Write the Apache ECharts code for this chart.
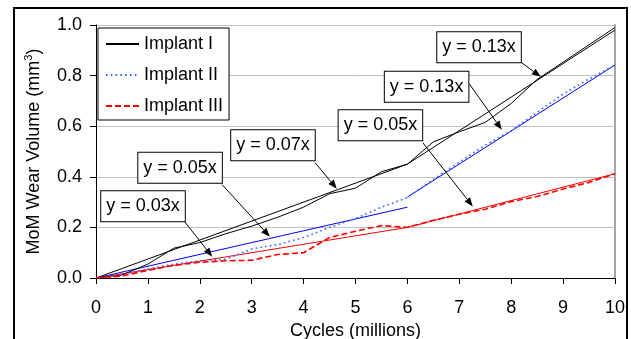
<!DOCTYPE html>
<html><head><meta charset="utf-8">
<script src="https://cdn.jsdelivr.net/npm/echarts@6/dist/echarts.min.js"></script>
<style>html,body{margin:0;padding:0;background:#fff}#c{width:631px;height:339px}</style>
</head><body><div id="c"></div>
<script>
// Cycles (millions)
const cycles = [0,0.5,1,1.5,2,2.5,3,3.5,4,4.5,5,5.5,6,6.5,7,7.5,8,8.5,9,9.5,10];
// Wear volume (mm3)
const implantI   = [0,0.012,0.055,0.118,0.14,0.175,0.205,0.24,0.28,0.333,0.355,0.42,0.45,0.538,0.578,0.615,0.69,0.785,0.853,0.922,0.99];
const implantII  = [0,0.012,0.035,0.055,0.068,0.074,0.115,0.132,0.16,0.2,0.235,0.28,0.318,0.39,0.458,0.525,0.582,0.655,0.727,0.787,0.842];
const implantIII = [0,0.008,0.03,0.05,0.062,0.068,0.07,0.093,0.1,0.16,0.185,0.207,0.2,0.228,0.252,0.272,0.302,0.322,0.352,0.378,0.412];
// Linear fits (start / end points)
const fitIa   = [[0,0],[6,0.45]];
const fitIb   = [[6,0.45],[10,0.98]];
const fitIIa  = [[0,0],[6,0.28]];
const fitIIb  = [[6,0.32],[10,0.842]];
const fitIIIa = [[0,0],[6,0.2]];
const fitIIIb = [[6,0.2],[10,0.412]];
// Annotation labels: text, box centre, arrow start, arrow tip (data coords)
const noteText = ['y = 0.13x','y = 0.13x','y = 0.05x','y = 0.07x','y = 0.05x','y = 0.03x'];
const noteBox  = [[7.38,0.912],[6.37,0.756],[5.48,0.604],[3.41,0.525],[1.62,0.436],[0.906,0.284]];
const noteFrom = [[8.17,0.856],[7.19,0.768],[6.30,0.534],[4.22,0.456],[2.43,0.369],[1.71,0.222]];
const noteTo   = [[8.57,0.795],[7.82,0.586],[7.26,0.283],[4.64,0.353],[3.35,0.163],[2.24,0.084]];

const FONT = "'Liberation Sans', Arial, sans-serif";
const pair = (xs, ys) => xs.map((x, i) => [x, ys[i]]);

const chart = echarts.init(document.getElementById('c'), null, {renderer: 'canvas'});
const fitSeries = (data, color) => ({
  type: 'line', data, symbol: 'none', silent: true, z: 3,
  lineStyle: {color, width: 1, type: 'solid'}
});
const option = {
  animation: false,
  backgroundColor: '#fff',
  textStyle: {fontFamily: FONT},
  grid: {left: 96, right: 16, top: 25, bottom: 61, show: false,
         containLabel: false, outerBoundsMode: 'none'},
  legend: {
    data: ['Implant I', 'Implant II', 'Implant III'],
    orient: 'vertical', left: 98, top: 28,
    backgroundColor: '#fff', borderColor: '#000', borderWidth: 1, borderRadius: 0,
    padding: [7, 6, 5, 7], itemWidth: 33, itemHeight: 14, itemGap: 13,
    itemStyle: {opacity: 0, color: 'rgba(0,0,0,0)', borderWidth: 0},
    textStyle: {fontFamily: FONT, fontSize: 18, lineHeight: 18, color: '#000'},
    z: 10
  },
  xAxis: {
    type: 'value', min: 0, max: 10, interval: 1,
    name: 'Cycles (millions)', nameLocation: 'middle', nameGap: 35,
    nameTextStyle: {fontFamily: FONT, fontSize: 18, color: '#000'},
    axisLine: {onZero: false, lineStyle: {color: '#000', width: 1}},
    axisTick: {show: true, inside: false, length: 6, lineStyle: {color: '#000'}},
    axisLabel: {fontFamily: FONT, fontSize: 18, color: '#000', margin: 21},
    splitLine: {show: false}
  },
  yAxis: [{
    type: 'value', min: 0, max: 1, interval: 0.2,
    name: '{t|MoM Wear Volume (mm}{s|3}{t|)}', nameLocation: 'middle', nameGap: 51,
    nameTextStyle: {fontFamily: FONT, fontSize: 18, color: '#000',
      rich: {t: {fontFamily: FONT, fontSize: 18, lineHeight: 22, color: '#000'},
             s: {fontFamily: FONT, fontSize: 11, lineHeight: 11, verticalAlign: 'top', color: '#000'}}},
    axisLine: {show: true, lineStyle: {color: '#000', width: 1}},
    axisTick: {show: true, inside: false, length: 6, lineStyle: {color: '#000'}},
    axisLabel: {fontFamily: FONT, fontSize: 18, color: '#000', margin: 14,
      formatter: v => v.toFixed(1)},
    splitLine: {show: true, lineStyle: {color: '#c0c0c0', width: 1}}
  }, {
    type: 'value', min: 0, max: 1, position: 'right',
    axisLine: {show: true, lineStyle: {color: '#a6a6a6', width: 2}},
    axisTick: {show: false}, axisLabel: {show: false}, splitLine: {show: false}
  }],
  series: [
    {name: 'Implant I', type: 'line', data: pair(cycles, implantI), symbol: 'none', z: 4,
     lineStyle: {color: '#000', width: 1, type: 'solid'}, itemStyle: {color: '#000'}},
    {name: 'Implant II', type: 'line', data: pair(cycles, implantII), symbol: 'none', z: 4,
     lineStyle: {color: '#3366ff', width: 1.6, type: [1.6, 3.2]}, itemStyle: {color: '#3366ff'}},
    {name: 'Implant III', type: 'line', data: pair(cycles, implantIII), symbol: 'none', z: 4,
     lineStyle: {color: '#ff0000', width: 1.6, type: [6, 3]}, itemStyle: {color: '#ff0000'}},
    fitSeries(fitIa, '#000'), fitSeries(fitIb, '#000'),
    fitSeries(fitIIa, '#0000ff'), fitSeries(fitIIb, '#0000ff'),
    fitSeries(fitIIIa, '#ff0000'), fitSeries(fitIIIb, '#ff0000')
  ]
};
chart.setOption(option);

// Annotations placed through the chart's own coordinate conversion
const px = p => chart.convertToPixel({gridIndex: 0}, p);
const graphics = [{
  type: 'rect', z: 0, silent: true,
  shape: {x: 14, y: 8, width: 613, height: 400},
  style: {fill: 'none', stroke: '#000', lineWidth: 2}
}];
noteText.forEach((txt, i) => {
  const f = px(noteFrom[i]), t = px(noteTo[i]), c = px(noteBox[i]);
  const dx = t[0] - f[0], dy = t[1] - f[1], len = Math.hypot(dx, dy);
  const ux = dx / len, uy = dy / len, L = 9, W = 3.5;
  const bx = t[0] - ux * L, by = t[1] - uy * L;
  graphics.push({type: 'line', z: 50, silent: true,
    shape: {x1: f[0], y1: f[1], x2: bx, y2: by},
    style: {stroke: '#000', lineWidth: 1}});
  graphics.push({type: 'polygon', z: 50, silent: true,
    shape: {points: [[t[0], t[1]], [bx - uy * W, by + ux * W], [bx + uy * W, by - ux * W]]},
    style: {fill: '#000'}});
  graphics.push({type: 'text', z: 60, silent: true, x: c[0], y: c[1],
    style: {text: txt, fontFamily: FONT, fontSize: 18, fill: '#000',
      align: 'center', verticalAlign: 'middle',
      backgroundColor: '#fff', borderColor: '#000', borderWidth: 1, padding: [6, 5, 6, 5]}});
});
chart.setOption({graphic: graphics});
</script></body></html>
